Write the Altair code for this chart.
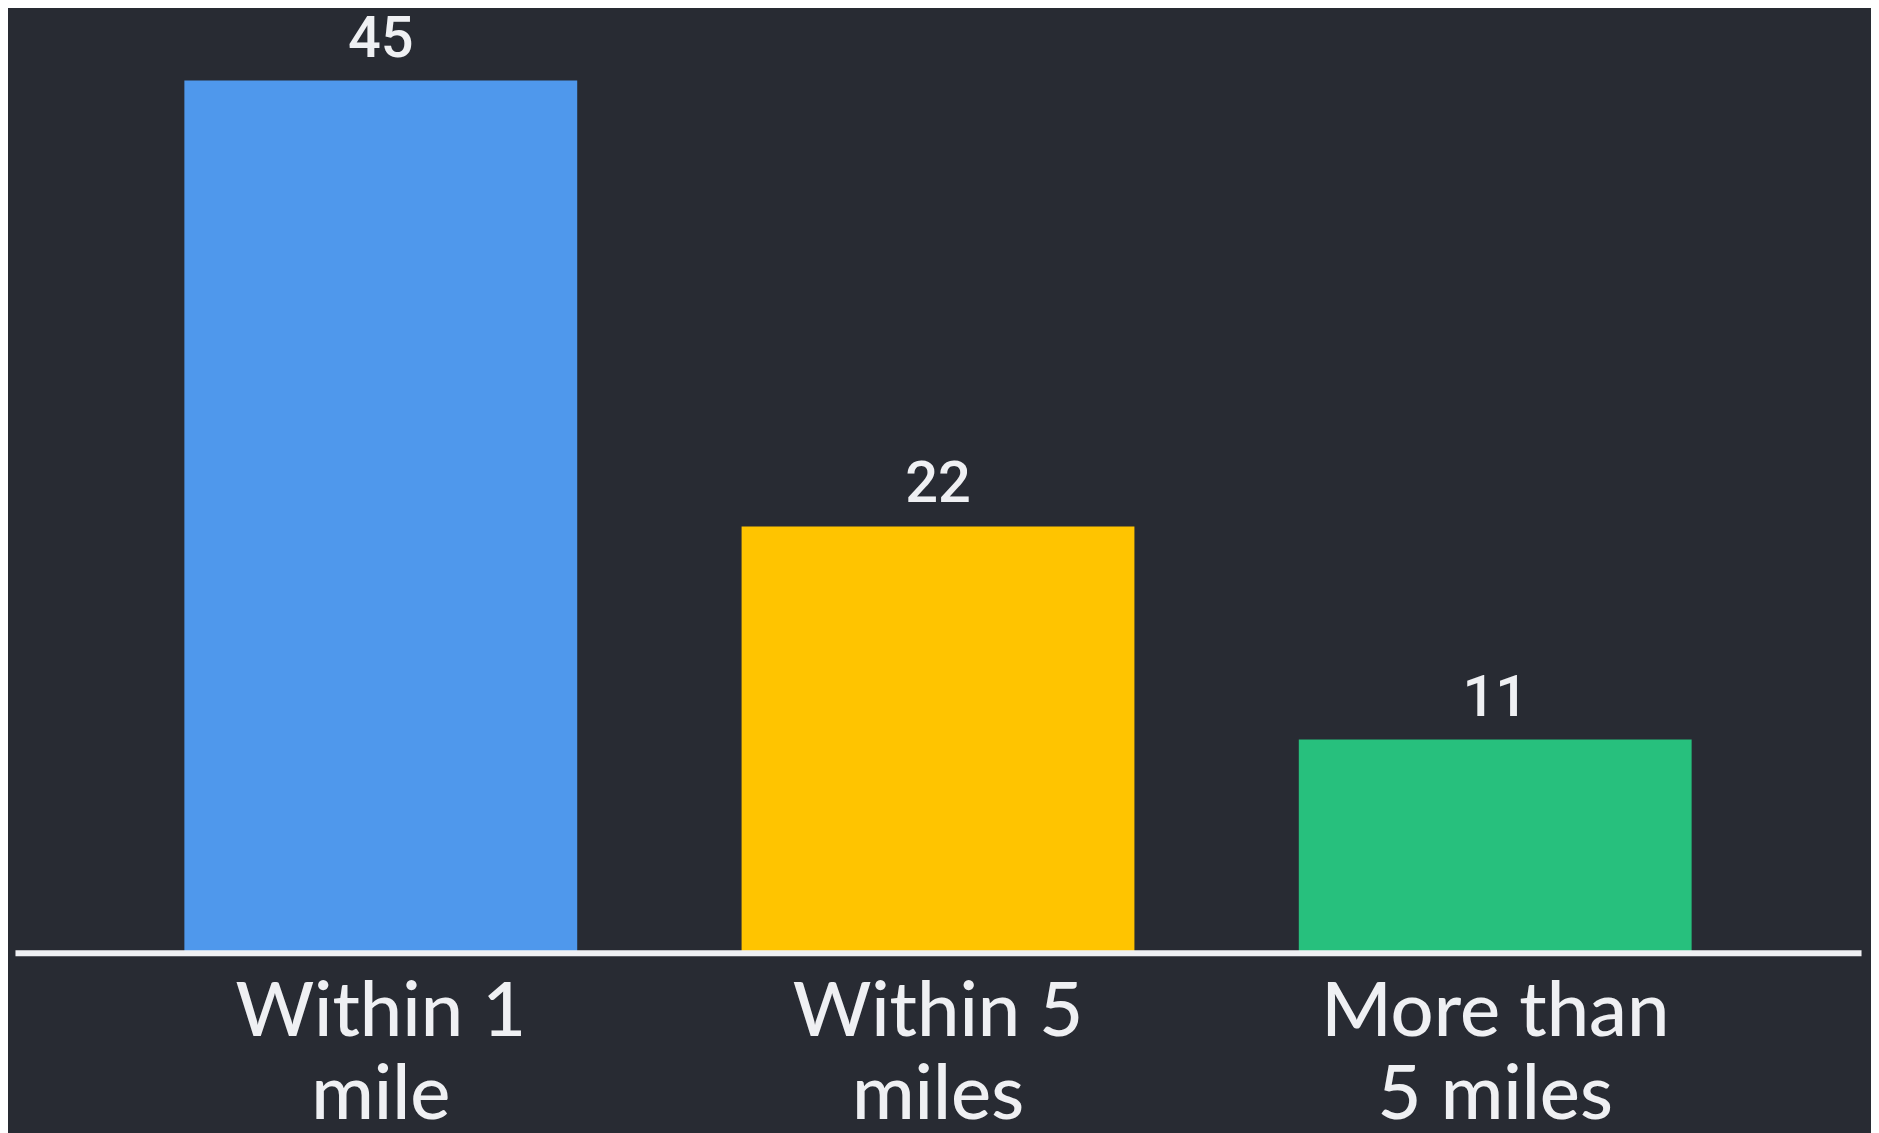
import altair as alt
import pandas as pd

categories = ["Within 1\nmile", "Within 5\nmiles", "More than\n5 miles"]
values = [45, 22, 11]
colors = ["#4f98ec", "#ffc400", "#27c07d"]

df = pd.DataFrame({"category": categories, "value": values, "color": colors})

BG = "#282b33"
FG = "#eff0f3"

x = alt.X(
    "category:N",
    sort=categories,
    scale=alt.Scale(paddingInner=0.295, paddingOuter=0.304),
    axis=alt.Axis(
        title=None,
        labelAngle=0,
        labelExpr="split(datum.value, '\\n')",
        labelFont="Lato",
        labelFontSize=76,
        labelFontWeight=500,
        labelColor=FG,
        labelLineHeight=83,
        labelBaseline="alphabetic",
        labelPadding=83,
        ticks=False,
        tickSize=0,
        domainColor=FG,
        domainWidth=6,
        zindex=1,
        labelFlush=False,
        labelOverlap=False,
        labelLimit=0,
    ),
)
y = alt.Y("value:Q", scale=alt.Scale(domain=[0, 45], nice=False, zero=True), axis=None)

bars = alt.Chart(df).mark_bar().encode(
    x=x, y=y, color=alt.Color("color:N", scale=None)
)
text = alt.Chart(df).mark_text(
    baseline="alphabetic", dy=-24, font="Roboto", fontSize=58, fontWeight=500, color=FG
).encode(x=x, y=y, text=alt.Text("value:Q"))

chart = (
    alt.layer(bars, text)
    .properties(
        width=1852,
        height=875,
        background=BG,
        autosize=alt.AutoSizeParams(type="none"),
        padding={"left": 7, "top": 71, "right": 10, "bottom": 190},
    )
    .configure_view(stroke=None)
)

chart.save("out.html", embed_options={"renderer": "svg", "actions": False})
